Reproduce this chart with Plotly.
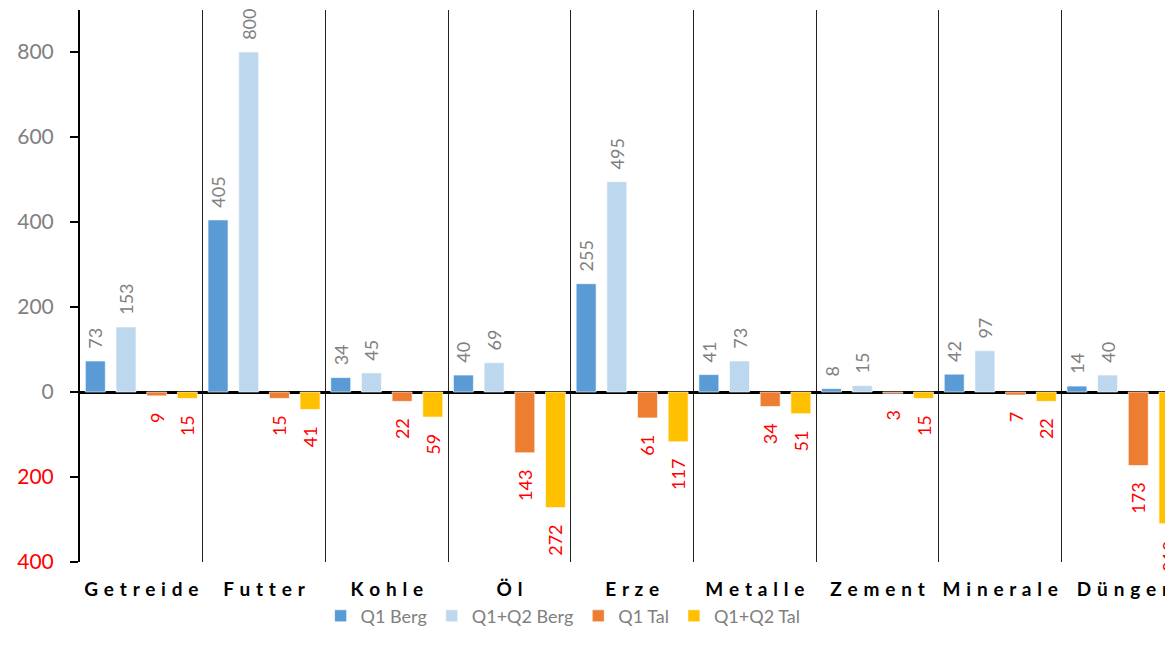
import plotly.graph_objects as go

categories = ["Getreide", "Futter", "Kohle", "Öl", "Erze", "Metalle", "Zement", "Minerale", "Dünger"]

q1_berg = [73, 405, 34, 40, 255, 41, 8, 42, 14]
q12_berg = [153, 800, 45, 69, 495, 73, 15, 97, 40]
q1_tal = [-9, -15, -22, -143, -61, -34, -3, -7, -173]
q12_tal = [-15, -41, -59, -272, -117, -51, -15, -22, -310]

series = [
    ("Q1 Berg", q1_berg, "#5B9BD5"),
    ("Q1+Q2 Berg", q12_berg, "#BDD7EE"),
    ("Q1 Tal", q1_tal, "#ED7D31"),
    ("Q1+Q2 Tal", q12_tal, "#FFC000"),
]

y_ticks = [-400, -200, 0, 200, 400, 600, 800]

FONT = "Lato, 'Open Sans', sans-serif"
GREY = "#808080"
RED = "#FF0000"


def bar_label(v):
    # labels are rotated to read upwards, so the padding sits on the side facing the bar
    if v >= 0:
        return "\u00a0\u00a0" + str(v)
    return str(abs(v)) + "\u00a0\u00a0\u00a0"


def tick_label(v):
    if v < 0:
        return f"<span style='color:{RED}'>{abs(v)}</span>"
    return str(v)


fig = go.Figure()
for name, values, color in series:
    label_color = GREY if values[0] >= 0 else RED
    fig.add_trace(go.Bar(
        name=name,
        x=categories,
        y=values,
        marker=dict(color=color, line=dict(color="rgba(255,255,255,0.6)", width=1)),
        text=[bar_label(v) for v in values],
        textposition="outside",
        textangle=-90,
        textfont=dict(family=FONT, size=18, color=label_color),
        constraintext="none",
        cliponaxis=False,
    ))

# page body adds an 8px offset; keep the page from scrolling vertically
fig.update_layout(
    width=1165,
    height=643,
    margin=dict(l=72, r=0, t=2, b=89),
    paper_bgcolor="white",
    plot_bgcolor="white",
    font=dict(family=FONT, color=GREY),
    barmode="group",
    bargap=0,
    bargroupgap=0.35,
    showlegend=True,
    legend=dict(
        orientation="h",
        x=0.442,
        xanchor="center",
        y=-0.098,
        yanchor="middle",
        font=dict(family=FONT, size=18, color=GREY),
        traceorder="normal",
    ),
)

fig.update_xaxes(
    type="category",
    range=[-0.5, 8.408],
    tickson="boundaries",
    showgrid=True,
    gridcolor="#222222",
    gridwidth=1,
    showline=False,
    zeroline=False,
    ticks="",
    tickangle=0,
    automargin=False,
    tickvals=categories,
    ticktext=[" \u200a".join(c) for c in categories],
    tickfont=dict(family=FONT, size=19, color="black", weight="bold"),
    ticklabelstandoff=14,
)

fig.update_yaxes(
    range=[-400, 899],
    tickvals=y_ticks,
    ticktext=[tick_label(v) for v in y_ticks],
    tickfont=dict(family=FONT, size=21, color=GREY),
    showgrid=False,
    showline=True,
    linecolor="black",
    linewidth=2,
    ticks="outside",
    ticklen=8,
    tickwidth=2,
    tickcolor="black",
    ticklabelstandoff=12,
    zeroline=True,
    zerolinecolor="black",
    zerolinewidth=3,
    layer="above traces",
)

fig.write_html("out.html")
